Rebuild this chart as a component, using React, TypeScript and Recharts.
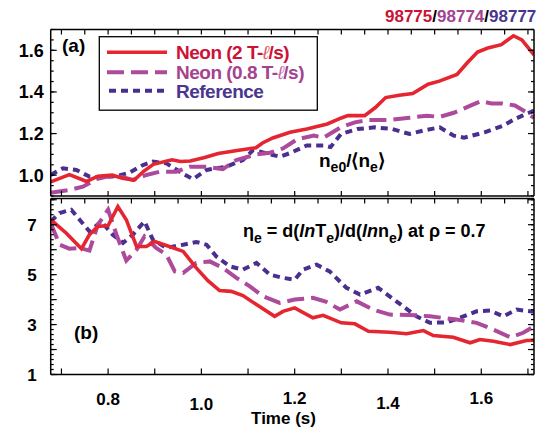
import React from 'react';
import { LineChart, Line, XAxis, YAxis } from 'recharts';

const FONT = "'Liberation Sans', Arial, Helvetica, sans-serif";

// ---------- Panel (a): n_e0 / <n_e> ----------
const neon2TimeA = [0.677, 0.717, 0.754, 0.778, 0.809, 0.831, 0.856, 0.877, 0.897, 0.937, 0.955, 0.976, 1.007, 1.036, 1.08, 1.117, 1.131, 1.153, 1.19, 1.226, 1.27, 1.3, 1.314, 1.35, 1.373, 1.395, 1.424, 1.453, 1.486, 1.51, 1.548, 1.57, 1.592, 1.614, 1.643, 1.669, 1.687, 1.713];
const neon2ValueA = [0.968, 1.003, 0.97, 0.995, 1.0, 0.985, 0.976, 1.02, 1.052, 1.074, 1.066, 1.068, 1.085, 1.104, 1.12, 1.132, 1.155, 1.179, 1.206, 1.222, 1.246, 1.275, 1.286, 1.286, 1.325, 1.373, 1.384, 1.392, 1.437, 1.452, 1.484, 1.54, 1.592, 1.611, 1.627, 1.67, 1.65, 1.578];

const neon08TimeA = [0.677, 0.717, 0.746, 0.775, 0.803, 0.832, 0.853, 0.882, 0.911, 0.946, 0.975, 1.011, 1.046, 1.075, 1.118, 1.147, 1.175, 1.205, 1.241, 1.262, 1.299, 1.329, 1.358, 1.402, 1.446, 1.483, 1.511, 1.541, 1.578, 1.599, 1.622, 1.644, 1.672, 1.695, 1.713];
const neon08ValueA = [0.916, 0.929, 0.945, 0.981, 0.996, 0.99, 0.977, 1.001, 1.017, 1.017, 1.041, 1.041, 1.029, 1.073, 1.1, 1.108, 1.129, 1.172, 1.19, 1.18, 1.23, 1.254, 1.265, 1.265, 1.276, 1.286, 1.28, 1.3, 1.335, 1.356, 1.345, 1.345, 1.335, 1.305, 1.275];

const refTimeA = [0.677, 0.703, 0.732, 0.76, 0.789, 0.818, 0.846, 0.875, 0.896, 0.925, 0.961, 0.982, 1.011, 1.054, 1.089, 1.111, 1.139, 1.168, 1.19, 1.226, 1.262, 1.277, 1.299, 1.335, 1.372, 1.409, 1.446, 1.475, 1.511, 1.541, 1.563, 1.607, 1.647, 1.672, 1.687, 1.713];
const refValueA = [1.001, 1.033, 1.025, 0.993, 0.99, 0.996, 1.012, 1.049, 1.065, 1.057, 1.006, 0.981, 1.025, 1.041, 1.073, 1.121, 1.105, 1.089, 1.106, 1.143, 1.143, 1.135, 1.198, 1.222, 1.23, 1.222, 1.198, 1.214, 1.23, 1.19, 1.18, 1.206, 1.238, 1.27, 1.285, 1.31];

// ---------- Panel (b): eta_e ----------
const neon2TimeB = [0.677, 0.71, 0.743, 0.76, 0.778, 0.8, 0.821, 0.839, 0.861, 0.882, 0.9, 0.925, 0.961, 0.989, 1.014, 1.039, 1.064, 1.089, 1.118, 1.157, 1.175, 1.2, 1.239, 1.261, 1.3, 1.329, 1.358, 1.404, 1.44, 1.476, 1.497, 1.54, 1.576, 1.597, 1.626, 1.662, 1.697, 1.713];
const neon2ValueB = [7.2, 6.67, 6.04, 6.6, 6.93, 6.97, 7.73, 7.2, 6.13, 6.13, 6.33, 6.17, 5.93, 5.27, 4.76, 4.36, 4.33, 4.16, 3.8, 3.33, 3.53, 3.67, 3.27, 3.37, 3.07, 3.03, 2.73, 2.69, 2.63, 2.76, 2.56, 2.49, 2.27, 2.4, 2.33, 2.2, 2.36, 2.37];

const neon08TimeB = [0.677, 0.696, 0.717, 0.739, 0.76, 0.778, 0.8, 0.818, 0.839, 0.861, 0.878, 0.903, 0.925, 0.943, 0.961, 0.989, 1.018, 1.046, 1.075, 1.104, 1.132, 1.168, 1.2, 1.239, 1.268, 1.297, 1.333, 1.368, 1.404, 1.461, 1.49, 1.547, 1.59, 1.626, 1.662, 1.69, 1.713];
const neon08ValueB = [7.07, 6.2, 6.04, 6.07, 5.96, 7.0, 7.6, 6.6, 5.56, 6.0, 6.53, 6.07, 5.8, 5.13, 5.07, 5.47, 5.53, 5.27, 4.87, 4.53, 4.13, 3.87, 4.0, 4.07, 3.91, 3.6, 3.93, 3.6, 3.4, 3.37, 3.33, 3.2, 3.07, 2.8, 2.49, 2.67, 2.93];

const refTimeB = [0.677, 0.696, 0.721, 0.739, 0.76, 0.785, 0.81, 0.832, 0.853, 0.878, 0.896, 0.925, 0.961, 0.989, 1.011, 1.032, 1.061, 1.089, 1.118, 1.147, 1.175, 1.2, 1.218, 1.247, 1.275, 1.311, 1.34, 1.379, 1.418, 1.461, 1.49, 1.526, 1.554, 1.59, 1.619, 1.647, 1.676, 1.713];
const refValueB = [7.13, 7.47, 7.6, 7.2, 6.73, 7.13, 6.6, 6.27, 6.6, 7.13, 6.4, 6.07, 6.2, 6.31, 6.2, 5.73, 5.33, 5.2, 5.47, 5.0, 4.87, 4.8, 5.2, 5.4, 5.13, 4.47, 4.2, 4.47, 3.93, 3.33, 3.07, 3.09, 3.27, 3.53, 3.56, 3.33, 3.6, 3.51];

// ---------- Axes ----------
const X_DOMAIN = [0.677, 1.713];
const xMajorTicks = [0.7, 0.8, 0.9, 1.0, 1.1, 1.2, 1.3, 1.4, 1.5, 1.6, 1.7];
const xMinorTicks = [0.7, 0.75, 0.8, 0.85, 0.9, 0.95, 1.0, 1.05, 1.1, 1.15, 1.2, 1.25, 1.3, 1.35, 1.4, 1.45, 1.5, 1.55, 1.6, 1.65, 1.7];
const xLabelTicks = [0.8, 1.0, 1.2, 1.4, 1.6];
const xLabelStagger: Record<string, number> = { '0.8': 0, '1': 5, '1.2': -1, '1.4': 4, '1.6': -1 };

const A_DOMAIN = [0.9, 1.7];
const aLabelTicks = [1.0, 1.2, 1.4, 1.6];
const aMinorTicks = [0.9, 0.95, 1.0, 1.05, 1.1, 1.15, 1.2, 1.25, 1.3, 1.35, 1.4, 1.45, 1.5, 1.55, 1.6, 1.65, 1.7];

const B_DOMAIN = [1, 8.05];
const bLabelTicks = [1, 3, 5, 7];
const bMajorTicks = [1, 2, 3, 4, 5, 6, 7, 8];
const bMinorTicks = [1, 1.2, 1.4, 1.6, 1.8, 2, 2.2, 2.4, 2.6, 2.8, 3, 3.2, 3.4, 3.6, 3.8, 4, 4.2, 4.4, 4.6, 4.8, 5, 5.2, 5.4, 5.6, 5.8, 6, 6.2, 6.4, 6.6, 6.8, 7, 7.2, 7.4, 7.6, 7.8, 8];

const RED = '#e5252f';
const MAG = '#ad4a9c';
const BLUE = '#4a2f8e';
const RED_TXT = '#cc1236';
const MAG_TXT = '#a5438f';
const BLUE_TXT = '#4a368f';

const TINY = 0.01;

const zip = (ts: number[], vs: number[]) => ts.map((t, i) => ({ t, v: vs[i] }));

const axisLine = { stroke: '#000', strokeWidth: 1.5 };
const tickLine = { stroke: '#000', strokeWidth: 1.2 };
const Empty = () => <g />;

const YLabel = (size: number, digits: number) => (props: any) => (
  <text x={props.x} y={props.y} dy="0.36em" textAnchor="end" fontFamily={FONT} fontWeight="bold" fontSize={size} fill="#000">
    {Number(props.payload.value).toFixed(digits)}
  </text>
);

const XLabel = (props: any) => {
  const v = Number(props.payload.value);
  const key = String(v);
  return (
    <text x={props.x} y={props.y + 30.5 + (xLabelStagger[key] || 0)} textAnchor="middle" fontFamily={FONT} fontWeight="bold" fontSize={17} fill="#000">
      {v.toFixed(1)}
    </text>
  );
};

function frameAxes(yDomain: number[], majorY: number[], minorY: number[], bottomTicks: number[], bottomSize: number) {
  return [
    <XAxis key="xb" xAxisId="main" type="number" dataKey="t" domain={X_DOMAIN} allowDataOverflow orientation="bottom" height={TINY} mirror ticks={bottomTicks} interval={0} tick={Empty} tickSize={bottomSize} tickLine={tickLine} axisLine={axisLine} />,
    <XAxis key="xt" xAxisId="top" type="number" dataKey="t" domain={X_DOMAIN} allowDataOverflow orientation="top" height={TINY} mirror ticks={xMinorTicks} interval={0} tick={Empty} tickSize={5} tickLine={tickLine} axisLine={axisLine} />,
    <YAxis key="ylmaj" yAxisId="lmaj" type="number" domain={yDomain} allowDataOverflow orientation="left" width={TINY} mirror ticks={majorY} interval={0} tick={Empty} tickSize={6} tickLine={tickLine} axisLine={axisLine} />,
    <YAxis key="ylmin" yAxisId="lmin" type="number" domain={yDomain} allowDataOverflow orientation="left" width={TINY} mirror ticks={minorY} interval={0} tick={Empty} tickSize={3} tickLine={tickLine} axisLine={false} />,
    <YAxis key="yrmaj" yAxisId="rmaj" type="number" domain={yDomain} allowDataOverflow orientation="right" width={TINY} mirror ticks={majorY} interval={0} tick={Empty} tickSize={6} tickLine={tickLine} axisLine={axisLine} />,
    <YAxis key="yrmin" yAxisId="rmin" type="number" domain={yDomain} allowDataOverflow orientation="right" width={TINY} mirror ticks={minorY} interval={0} tick={Empty} tickSize={3} tickLine={tickLine} axisLine={false} />,
  ];
}

function seriesLines(red: any[], mag: any[], ref: any[]) {
  return [
    <Line key="ref" xAxisId="main" yAxisId="val" data={ref} dataKey="v" type="linear" stroke={BLUE} strokeWidth={4} strokeDasharray="7 5" dot={false} activeDot={false} isAnimationActive={false} />,
    <Line key="mag" xAxisId="main" yAxisId="val" data={mag} dataKey="v" type="linear" stroke={MAG} strokeWidth={4} strokeDasharray="17 7" dot={false} activeDot={false} isAnimationActive={false} />,
    <Line key="red" xAxisId="main" yAxisId="val" data={red} dataKey="v" type="linear" stroke={RED} strokeWidth={3.6} dot={false} activeDot={false} isAnimationActive={false} />,
  ];
}

export default function App() {
  const redA = zip(neon2TimeA, neon2ValueA);
  const magA = zip(neon08TimeA, neon08ValueA);
  const refA = zip(refTimeA, refValueA);
  const redB = zip(neon2TimeB, neon2ValueB);
  const magB = zip(neon08TimeB, neon08ValueB);
  const refB = zip(refTimeB, refValueB);

  return (
    <div style={{ position: 'fixed', left: 0, top: 0, width: 538, height: 437, background: '#fff', overflow: 'hidden' }}>
      <div style={{ position: 'absolute', left: 0, top: 0 }}>
        <LineChart width={538} height={200} margin={{ top: 29.5, right: 4, bottom: 4, left: 50.7 }}>
          {frameAxes(A_DOMAIN, aLabelTicks, aMinorTicks, xMajorTicks, 5)}
          <YAxis yAxisId="val" type="number" domain={A_DOMAIN} allowDataOverflow orientation="left" width={TINY} ticks={aLabelTicks} interval={0} tick={YLabel(18, 1)} tickSize={0} tickMargin={7} tickLine={false} axisLine={false} />
          {seriesLines(redA, magA, refA)}
        </LineChart>
      </div>
      <div style={{ position: 'absolute', left: 0, top: 0 }}>
        <LineChart width={538} height={437} margin={{ top: 198.5, right: 4, bottom: 62.5, left: 50.7 }}>
          {frameAxes(B_DOMAIN, bMajorTicks, bMinorTicks, xMajorTicks, 6)}
          <XAxis xAxisId="lab" type="number" dataKey="t" domain={X_DOMAIN} allowDataOverflow orientation="bottom" height={TINY} ticks={xLabelTicks} interval={0} tick={XLabel} tickSize={0} tickMargin={0} tickLine={false} axisLine={false} />
          <YAxis yAxisId="val" type="number" domain={B_DOMAIN} allowDataOverflow orientation="left" width={TINY} ticks={bLabelTicks} interval={0} tick={YLabel(17, 0)} tickSize={0} tickMargin={14} tickLine={false} axisLine={false} />
          {seriesLines(redB, magB, refB)}
        </LineChart>
      </div>
      <svg width={538} height={437} style={{ position: 'absolute', left: 0, top: 0, pointerEvents: 'none' }} fontFamily={FONT} fontWeight="bold">
        <text x={385} y={21.5} fontSize={17}>
          <tspan fill={RED_TXT}>98775</tspan>
          <tspan fill="#000">/</tspan>
          <tspan fill={MAG_TXT}>98774</tspan>
          <tspan fill="#000">/</tspan>
          <tspan fill={BLUE_TXT}>98777</tspan>
        </text>
        <text x={62} y={52} fontSize={19} fill="#000">(a)</text>
        <text x={74} y={339} fontSize={19} fill="#000">(b)</text>

        <rect x={99.3} y={36.7} width={218} height={73.5} fill="#fff" stroke="#000" strokeWidth={1.3} />
        <line x1={107} x2={167} y1={52.3} y2={52.3} stroke={RED} strokeWidth={3.6} />
        <line x1={107} x2={167} y1={72.3} y2={72.3} stroke={MAG} strokeWidth={4} strokeDasharray="17 7" />
        <line x1={109} x2={167} y1={90.7} y2={90.7} stroke={BLUE} strokeWidth={4} strokeDasharray="7 5" />
        <text x={176} y={58.5} fontSize={19} letterSpacing={-0.5} fill={RED_TXT}>
          Neon (2 T-<tspan fontStyle="italic" fontWeight="normal" fill="#e05a6a">ℓ</tspan>/s)
        </text>
        <text x={176} y={78.5} fontSize={19} letterSpacing={-0.5} fill={MAG_TXT}>
          Neon (0.8 T-<tspan fontStyle="italic" fontWeight="normal" fill="#c070b0">ℓ</tspan>/s)
        </text>
        <text x={176} y={98} fontSize={19} letterSpacing={-0.5} fill={BLUE_TXT}>Reference</text>

        <text x={319} y={167} fontSize={19} fill="#000">
          n<tspan fontSize={14} dy={5}>e0</tspan><tspan dy={-5}>/⟨n</tspan><tspan fontSize={14} dy={5}>e</tspan><tspan dy={-5}>⟩</tspan>
        </text>

        <text x={243} y={237} fontSize={18} fill="#000">
          η<tspan fontSize={14} dy={6}>e</tspan><tspan dy={-6}> = d(</tspan><tspan fontStyle="italic">ln</tspan>T<tspan fontSize={14} dy={6}>e</tspan><tspan dy={-6}>)/d(</tspan><tspan fontStyle="italic">ln</tspan>n<tspan fontSize={14} dy={6}>e</tspan><tspan dy={-6}>) at ρ = 0.7</tspan>
        </text>

        <text x={283.5} y={424} fontSize={17} textAnchor="middle" fill="#000">Time (s)</text>
      </svg>
    </div>
  );
}
